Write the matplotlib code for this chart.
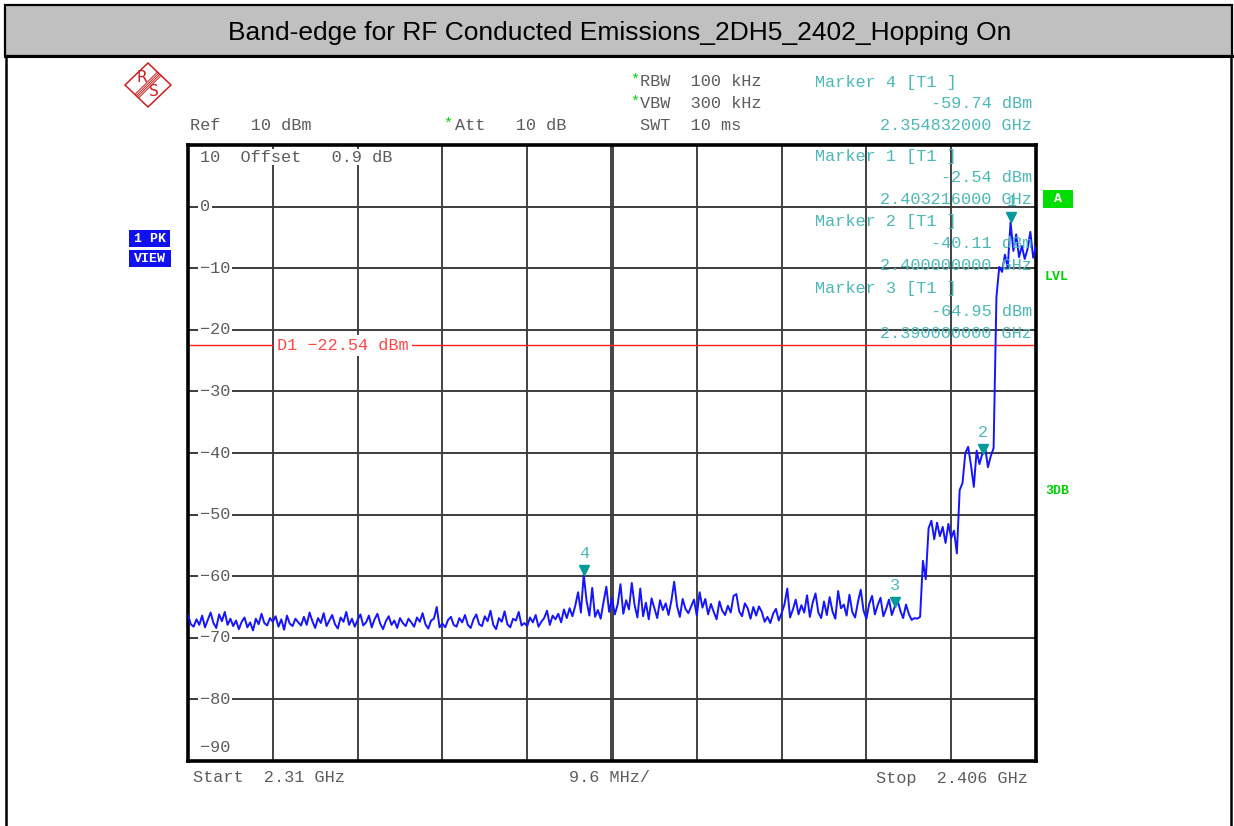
import numpy as np
import matplotlib.pyplot as plt
from matplotlib.patches import Rectangle, Polygon
from matplotlib.lines import Line2D
from matplotlib.transforms import offset_copy

# sweep settings
f_start = 2.310   # GHz
f_stop = 2.406    # GHz
ref_level = 10
bottom_level = -90
d1_level = -22.54

levels = [
    -66.3, -67.8, -68.2, -67.0, -67.9, -66.4, -68.3, -67.1, -65.9, -67.6, -68.4, -66.2, -67.3, -65.8, -67.9, -66.9, -68.1, -67.2, -68.6, -67.4,
    -66.7, -68.3, -67.5, -68.8, -66.9, -67.8, -66.1, -67.6, -68.0, -66.8, -67.4, -66.5, -68.2, -67.0, -68.7, -66.4, -67.7, -68.1, -66.9, -67.5,
    -68.0, -66.6, -67.9, -65.9, -67.3, -68.4, -66.8, -67.6, -66.0, -68.1, -67.2, -66.3, -67.8, -68.5, -66.7, -67.4, -65.8, -67.9, -66.9, -68.2,
    -67.1, -66.2, -68.0, -67.5, -66.4, -68.3, -67.0, -66.1, -67.7, -68.6, -67.3, -66.5, -67.9, -67.2, -68.4, -66.8, -67.6, -68.1, -66.9, -67.5,
    -68.2, -66.7, -67.4, -66.0, -67.8, -68.5, -67.2, -66.9, -65.0, -68.3, -67.7, -68.3, -67.1, -66.6, -67.9, -68.2, -66.8, -67.5, -66.3, -67.9,
    -68.4, -67.0, -66.2, -67.8, -68.1, -66.5, -67.3, -65.6, -67.9, -68.6, -66.8, -67.4, -65.7, -67.8, -68.3, -66.9, -67.2, -65.8, -68.0, -67.6,
    -68.1, -66.7, -67.5, -66.3, -68.2, -67.4, -66.8, -65.6, -67.9, -66.4, -67.0, -66.1, -67.5, -65.4, -66.8, -65.2, -66.5, -64.8, -62.6, -65.9,
    -59.74, -64.0, -66.4, -61.9, -66.6, -65.5, -66.9, -64.2, -61.7, -65.8, -63.5, -66.2, -64.6, -61.3, -66.1, -63.9, -65.4, -61.1, -64.7, -66.7,
    -62.0, -66.5, -64.3, -67.0, -63.6, -65.2, -66.8, -63.9, -65.5, -64.4, -66.3, -64.0, -60.9, -64.8, -66.6, -63.7, -65.3, -66.0, -64.9, -63.8,
    -66.4, -62.6, -65.1, -63.7, -66.2, -64.5, -65.8, -67.0, -64.1, -65.6, -66.3, -64.8, -65.9, -63.2, -62.9, -65.7, -66.5, -64.4, -65.2, -66.9,
    -65.0, -66.4, -64.9, -65.8, -67.4, -66.6, -67.6, -66.1, -65.3, -67.2, -66.0, -64.6, -62.0, -66.7, -65.4, -63.8, -66.2, -64.7, -65.9, -63.1,
    -66.6, -64.3, -62.8, -65.9, -66.8, -64.1, -66.3, -63.4, -65.7, -66.9, -62.4, -65.2, -64.6, -66.4, -63.0, -65.8, -66.7, -64.2, -62.2, -65.6,
    -66.9, -64.5, -63.2, -66.2, -64.7, -63.5, -66.5, -65.3, -63.8, -66.3, -64.95, -63.9, -65.6, -66.8, -64.6, -66.1, -67.1, -66.8, -66.9, -66.6,
    -57.5, -60.5, -52.2, -51.0, -54.0, -51.3, -53.5, -52.0, -54.6, -51.5, -53.8, -52.6, -56.3, -46.0, -44.9, -40.0, -39.0, -42.0, -45.5, -39.6,
    -41.8, -40.11, -39.0, -42.3, -40.5, -39.2, -14.7, -9.8, -10.6, -7.8, -9.9, -2.54, -7.2, -4.5, -8.2, -6.4, -8.5, -6.9, -4.1, -8.3, -6.5,
]

# markers: number, frequency (GHz), level (dBm)
marker_ids = ['1', '2', '3', '4']
marker_freqs = [2.403216, 2.400000, 2.390000, 2.354832]
marker_levels = [-2.54, -40.11, -64.95, -59.74]

y_ticks = [0, -10, -20, -30, -40, -50, -60, -70, -80]

freq = np.linspace(f_start, f_stop, len(levels))

W, H = 1234, 826
fig = plt.figure(figsize=(W / 100, H / 100), dpi=100)

mono = 'Liberation Mono'
gray = '#5c5c5c'
cyan = '#4cb8b8'
teal = '#009a9a'
green = '#00d000'


def ftext(x, y, s, **kw):
    # x, y in pixels from the top left corner
    kw.setdefault('family', mono)
    kw.setdefault('fontsize', 12.2)
    kw.setdefault('color', gray)
    kw.setdefault('va', 'center')
    return fig.text(x / W, 1 - y / H, s, **kw)


def fline(xs, ys, **kw):
    fig.add_artist(Line2D([x / W for x in xs], [1 - y / H for y in ys],
                          transform=fig.transFigure, **kw))


# title bar and frame
fig.add_artist(Rectangle((5 / W, 1 - 56 / H), 1227 / W, 51 / H, transform=fig.transFigure,
                         facecolor='#c0c0c0', edgecolor='black', lw=1.6))
fline([5, 1232], [56, 56], color='black', lw=2.2)
fline([6, 6], [56, 826], color='black', lw=1.8)
fline([1231, 1231], [56, 826], color='black', lw=1.8)
ftext(620, 33, 'Band-edge for RF Conducted Emissions_2DH5_2402_Hopping On',
      family='Liberation Sans', fontsize=19, color='black', ha='center')

# R&S logo
cx, cy = 148, 85
fig.add_artist(Polygon([((cx - 23) / W, 1 - cy / H), (cx / W, 1 - (cy - 22) / H),
                        ((cx + 23) / W, 1 - cy / H), (cx / W, 1 - (cy + 22) / H)],
                       closed=True, transform=fig.transFigure, fill=False,
                       edgecolor='#cc1f1f', lw=1.1))
for d in [-1.8, -0.6, 0.6, 1.8]:
    fline([cx + 11 + d, cx - 11 + d], [cy - 11 + d, cy + 11 + d], color='#cc1f1f', lw=0.7)
ftext(cx - 6, cy - 7, 'R', family='DejaVu Sans', fontsize=11, color='#cc1f1f', ha='center')
ftext(cx + 6, cy + 7, 'S', family='DejaVu Sans', fontsize=11, color='#cc1f1f', ha='center')

# settings text
ftext(190, 125, 'Ref   10 dBm')
ftext(443, 124, '*', color=green, fontsize=11)
ftext(455, 125, 'Att   10 dB')
ftext(630, 80, '*', color=green, fontsize=11)
ftext(640, 81, 'RBW  100 kHz')
ftext(630, 102, '*', color=green, fontsize=11)
ftext(640, 103, 'VBW  300 kHz')
ftext(640, 125, 'SWT  10 ms')

# marker readouts
ftext(815, 82, 'Marker 4 [T1 ]', color=cyan)
ftext(1032, 103, '-59.74 dBm', color=cyan, ha='right')
ftext(1032, 125, '2.354832000 GHz', color=cyan, ha='right')
ftext(815, 156, 'Marker 1 [T1 ]', color=cyan, zorder=5)
ftext(1032, 178, '-2.54 dBm', color=cyan, ha='right', zorder=5)
ftext(1032, 200, '2.403216000 GHz', color=cyan, ha='right', zorder=5)
ftext(815, 222, 'Marker 2 [T1 ]', color=cyan, zorder=5)
ftext(1032, 244, '-40.11 dBm', color=cyan, ha='right', zorder=5)
ftext(1032, 266, '2.400000000 GHz', color=cyan, ha='right', zorder=5)
ftext(815, 288, 'Marker 3 [T1 ]', color=cyan, zorder=5)
ftext(1032, 311, '-64.95 dBm', color=cyan, ha='right', zorder=5)
ftext(1032, 333, '2.390000000 GHz', color=cyan, ha='right', zorder=5)

# side boxes
fig.add_artist(Rectangle((129 / W, 1 - 247 / H), 41 / W, 17 / H, transform=fig.transFigure,
                         facecolor='#1010f0', edgecolor='none'))
fig.add_artist(Rectangle((129 / W, 1 - 267 / H), 42 / W, 17 / H, transform=fig.transFigure,
                         facecolor='#1010f0', edgecolor='none'))
ftext(150, 239, '1 PK', color='white', fontsize=9.5, weight='bold', ha='center')
ftext(150, 259, 'VIEW', color='white', fontsize=9.5, weight='bold', ha='center')
fig.add_artist(Rectangle((1043 / W, 1 - 208 / H), 30 / W, 18 / H, transform=fig.transFigure,
                         facecolor='#00dd00', edgecolor='none'))
ftext(1058, 199, 'A', color='white', fontsize=9.5, weight='bold', ha='center')
ftext(1045, 277, 'LVL', color=green, fontsize=9.5, weight='bold')
ftext(1045, 491, '3DB', color=green, fontsize=9.5, weight='bold')

# bottom text
ftext(193, 778, 'Start  2.31 GHz')
ftext(569, 778, '9.6 MHz/')
ftext(1028, 778, 'Stop  2.406 GHz', ha='right')

# the screen
ax = fig.add_axes([188 / W, 1 - 761 / H, 848 / W, 616 / H])
ax.set_xlim(f_start, f_stop)
ax.set_ylim(bottom_level, ref_level)
ax.set_xticks([])
ax.set_yticks([])
for s in ax.spines.values():
    s.set_linewidth(2.6)

span_div = (f_stop - f_start) / 10
for k in range(1, 10):
    fx = f_start + k * span_div
    if k == 5:
        ax.axvline(fx - 0.00013, color='#222222', lw=1.2, zorder=1)
        ax.axvline(fx + 0.00013, color='#222222', lw=1.2, zorder=1)
    else:
        ax.axvline(fx, color='#222222', lw=1.2, zorder=1)
for v in y_ticks:
    ax.axhline(v, color='#3c3c3c', lw=1.4, zorder=1)

lab_x = 12 / 848
for v in y_ticks:
    ax.text(lab_x, v, '%d' % v if v == 0 else '\u2212%d' % (-v), transform=ax.get_yaxis_transform(),
            family=mono, fontsize=12.2, color=gray, va='center', ha='left', zorder=2,
            bbox=dict(boxstyle='square,pad=0.12', fc='white', ec='none'))
ax.text(lab_x, (761 - 157) / 616, '10  Offset   0.9 dB', transform=ax.transAxes,
        family=mono, fontsize=12.2, color=gray, va='center', ha='left', zorder=2,
        bbox=dict(boxstyle='square,pad=0.05', fc='white', ec='none'))
ax.text(lab_x, (761 - 748) / 616, '\u221290', transform=ax.transAxes,
        family=mono, fontsize=12.2, color=gray, va='center', ha='left', zorder=2)

# display line D1
ax.axhline(d1_level, color='#ff2020', lw=1.0, zorder=2)
ax.text(89 / 848, d1_level, 'D1 \u221222.54 dBm', transform=ax.get_yaxis_transform(),
        family=mono, fontsize=12.2, color='#ff4848', va='center', ha='left', zorder=2.5,
        bbox=dict(boxstyle='square,pad=0.2', fc='white', ec='none'))

# trace
ax.plot(freq, levels, color='#1414ff', lw=1.4, zorder=3)

# markers
tri = offset_copy(ax.transData, fig=fig, x=0, y=3.6, units='points')
for mid, mf, ml in zip(marker_ids, marker_freqs, marker_levels):
    ax.plot(mf, ml, marker='v', ms=7.5, color=teal, mec=teal, transform=tri, zorder=4)
    ax.annotate(mid, (mf, ml), xytext=(0, 15), textcoords='offset points',
                family=mono, fontsize=12.2, color=cyan, ha='center', va='center', zorder=4)

fig.savefig('out.png', dpi=100)
